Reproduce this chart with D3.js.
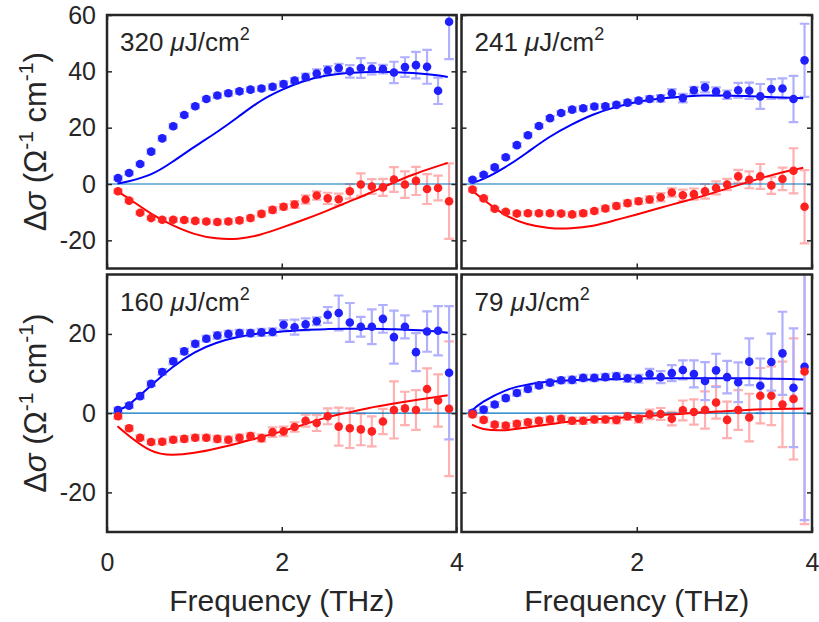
<!DOCTYPE html>
<html>
<head>
<meta charset="utf-8">
<script src="https://cdn.jsdelivr.net/npm/d3@7"></script>
<style>
body { margin: 0; background: #fff; }
text { font-family: "Liberation Sans", Arial, sans-serif; fill: #262626; }
</style>
</head>
<body>
<svg width="819" height="622"></svg>
<script>
// frequencies of the measured points (THz)
const freq = [0.126,0.253,0.379,0.505,0.632,0.758,0.884,1.010,1.137,1.263,1.389,1.516,1.642,1.768,1.895,2.021,
  2.147,2.273,2.400,2.526,2.652,2.779,2.905,3.031,3.158,3.284,3.410,3.536,3.663,3.789,3.915];
// frequencies where the model curves are sampled
const fitFreq = [0.12,0.25,0.5,0.75,1.0,1.25,1.5,1.75,2.0,2.25,2.5,2.75,3.0,3.25,3.5,3.75,3.9];

const fluence = ["320", "241", "160", "79"];

// 320 uJ/cm2
const blue320 = [2.1,3.9,7.1,11.5,16.2,20.5,24.5,27.6,30.2,31.4,32.2,32.9,33.5,33.9,34.5,35.5,36.7,38.0,39.2,40.4,41.2,40.0,41.2,40.9,40.8,39.6,41.5,42.2,41.6,33.1,57.6];
const blueErr320 = [0.6,0.6,0.6,0.7,0.7,0.7,0.7,0.7,0.7,0.8,0.8,0.8,0.8,0.8,0.9,0.9,1.0,1.2,1.5,1.5,1.5,2.2,3.5,2.0,1.5,3.8,3.5,4.7,6.0,4.7,13.3];
const red320 = [-2.6,-5.9,-10.2,-12.1,-12.7,-12.7,-12.8,-13.1,-13.3,-13.5,-13.3,-12.9,-12.1,-10.6,-9.2,-8.1,-7.3,-5.5,-4.1,-5.1,-5.4,-2.6,-0.2,-0.9,-1.2,1.6,-0.2,1.1,-1.8,-1.4,-6.1];
const redErr320 = [0.6,0.6,0.6,0.6,0.7,0.7,0.7,0.7,0.7,0.8,0.8,0.8,0.9,0.9,1.0,1.0,1.2,1.5,1.5,2.0,2.0,2.6,4.0,2.6,3.0,4.4,4.7,5.0,5.3,4.4,13.4];
const blueFit320 = [0.2,1.0,3.4,7.9,13.2,18.3,23.8,29.3,33.4,36.5,38.4,39.4,39.8,39.8,39.4,38.7,38.0];
const redFit320 = [-2.6,-5.2,-10.4,-14.6,-17.7,-19.3,-19.4,-18.0,-15.5,-12.7,-9.7,-6.5,-3.3,0.1,3.3,6.0,7.5];

// 241 uJ/cm2
const blue241 = [1.5,3.3,5.9,9.5,13.8,17.3,20.6,23.4,25.2,26.4,26.9,27.5,27.6,28.1,28.9,29.6,30.2,30.4,32.2,30.5,33.3,34.3,32.8,31.7,33.3,33.1,31.1,33.7,33.9,30.2,43.9];
const blueErr241 = [0.6,0.6,0.6,0.6,0.7,0.7,0.7,0.7,0.7,0.8,0.8,0.8,0.8,0.8,0.9,0.9,1.0,1.2,1.5,1.5,1.2,1.8,1.5,1.5,2.6,2.9,4.4,3.5,3.6,8.2,13.0];
const red241 = [-2.0,-5.1,-8.8,-9.9,-10.5,-10.4,-10.4,-10.4,-10.5,-10.8,-10.4,-9.6,-8.7,-7.8,-6.8,-6.1,-5.5,-4.7,-3.0,-4.0,-3.6,-2.6,-1.4,-0.2,2.7,1.5,2.7,-0.5,1.8,4.7,-8.1];
const redErr241 = [0.6,0.6,0.6,0.6,0.7,0.7,0.7,0.7,0.7,0.8,0.8,0.8,0.9,0.9,1.0,1.0,1.2,1.5,1.5,2.0,2.0,2.6,2.3,2.0,2.3,3.0,4.4,3.0,4.0,8.0,13.0];
const blueFit241 = [0.4,1.8,6.0,11.2,16.6,21.0,24.6,27.2,29.1,30.3,31.0,31.4,31.4,31.2,30.9,30.6,30.4];
const redFit241 = [-2.3,-5.5,-11.0,-14.2,-15.6,-15.7,-14.8,-12.9,-10.8,-8.6,-6.5,-4.3,-1.9,0.5,2.8,4.8,5.8];

// 160 uJ/cm2
const blue160 = [0.8,1.9,4.3,7.4,10.4,13.1,15.6,17.5,18.8,19.6,20.0,20.2,20.2,20.4,20.5,22.3,21.7,22.4,23.2,24.8,25.3,22.9,21.8,21.8,23.8,19.2,21.8,15.4,20.6,20.8,10.2];
const blueErr160 = [0.6,0.6,0.6,0.6,0.7,0.7,0.7,0.7,0.7,0.8,0.8,0.8,0.8,0.9,0.9,1.2,1.9,1.5,1.0,2.0,4.4,4.9,2.5,4.4,3.5,6.7,2.9,4.8,5.1,6.2,16.8];
const red160 = [-0.8,-3.8,-6.2,-7.3,-7.2,-6.7,-6.5,-6.2,-6.2,-6.5,-6.7,-6.2,-5.8,-6.3,-4.8,-4.6,-3.5,-1.9,-2.5,-0.8,-3.4,-3.8,-4.1,-4.6,-2.1,0.8,1.2,0.8,6.1,3.2,1.1];
const redErr160 = [0.6,0.6,0.6,0.6,0.7,0.7,0.7,0.7,0.7,0.8,0.8,0.8,0.8,0.9,1.2,1.2,1.2,1.5,2.0,2.0,4.8,5.0,4.0,3.8,3.2,7.2,4.2,5.0,5.2,6.6,17.0];
const blueFit160 = [0.7,2.2,6.9,11.6,15.3,17.7,19.2,20.1,20.6,21.0,21.2,21.3,21.3,21.2,21.0,20.7,20.3];
const redFit160 = [-3.3,-5.7,-9.4,-10.5,-10.0,-8.9,-7.6,-6.1,-4.6,-2.9,-1.2,0.1,1.3,2.3,3.2,4.0,4.5];

// 79 uJ/cm2
const blue79 = [0.1,0.9,2.2,3.8,5.1,6.1,7.0,7.7,8.3,8.4,8.9,8.9,9.1,9.3,8.8,8.7,9.9,9.1,10.1,10.9,9.9,8.1,10.8,9.1,7.8,13.0,6.9,12.9,15.1,6.4,11.7];
const blueErr79 = [0.6,0.6,0.6,0.6,0.7,0.7,0.7,0.7,0.7,0.8,0.8,0.8,0.8,0.9,0.9,1.0,1.3,1.5,2.0,2.4,3.4,4.8,4.2,4.1,5.0,5.9,6.9,7.2,10.5,15.0,38.7];
const red79 = [-0.3,-1.7,-2.9,-3.1,-2.7,-2.3,-1.9,-1.6,-1.4,-1.9,-1.9,-1.6,-1.6,-1.7,-0.8,-1.4,-0.3,-0.2,-1.4,0.7,0.3,0.8,2.7,-1.7,0.8,-1.1,4.4,4.4,2.2,3.6,10.5];
const redErr79 = [0.6,0.6,0.6,0.6,0.7,0.7,0.7,0.7,0.7,0.8,0.8,0.8,0.8,0.9,0.9,1.0,1.2,1.5,1.7,2.5,3.2,4.7,4.1,4.6,5.0,6.0,7.0,7.4,10.8,15.3,38.5];
const blueFit79 = [0.7,2.9,5.7,7.2,7.9,8.3,8.5,8.6,8.7,8.8,8.8,8.8,8.8,8.8,8.7,8.6,8.5];
const redFit79 = [-2.9,-4.0,-4.3,-3.6,-2.8,-2.1,-1.6,-1.2,-0.9,-0.5,-0.2,0.2,0.5,0.8,1.0,1.1,1.2];

const xTicks = [0, 2, 4];
const yTicksTop = [-20, 0, 20, 40, 60];
const yTicksBottom = [-20, 0, 20];

let panels = [
  {row:0, col:0, blue:blue320, blueErr:blueErr320, red:red320, redErr:redErr320, blueFit:blueFit320, redFit:redFit320},
  {row:0, col:1, blue:blue241, blueErr:blueErr241, red:red241, redErr:redErr241, blueFit:blueFit241, redFit:redFit241},
  {row:1, col:0, blue:blue160, blueErr:blueErr160, red:red160, redErr:redErr160, blueFit:blueFit160, redFit:redFit160},
  {row:1, col:1, blue:blue79, blueErr:blueErr79, red:red79, redErr:redErr79, blueFit:blueFit79, redFit:redFit79}
];

let svg = d3.select("svg");
let cols = [[107, 456.5], [461.5, 812]];
let rows = [[15, 268.5], [274.5, 532]];
let yDomains = [[-30, 60], [-30, 35]];
let yTickSets = [yTicksTop, yTicksBottom];

let fitLine = d3.line().curve(d3.curveNatural);
let plain = function(d){ return String(d); };   // hyphen minus like the original

panels.forEach(function(p, k){
  let x = d3.scaleLinear().domain([0, 4]).range(cols[p.col]);
  let y = d3.scaleLinear().domain(yDomains[p.row]).range([rows[p.row][1], rows[p.row][0]]);
  let g = svg.append("g");

  svg.append("clipPath").attr("id", "clip" + k)
    .append("rect")
    .attr("x", x(0)).attr("y", y(yDomains[p.row][1]))
    .attr("width", x(4) - x(0))
    .attr("height", y(yDomains[p.row][0]) - y(yDomains[p.row][1]));
  let plot = g.append("g").attr("clip-path", "url(#clip" + k + ")");

  // error bars
  [[p.red, p.redErr, "#ffb0b0"], [p.blue, p.blueErr, "#b0b0ff"]].forEach(function(s){
    plot.append("g").selectAll("path")
      .data(freq)
      .join("path")
      .attr("fill", "none")
      .attr("stroke", s[2])
      .attr("stroke-width", 2.2)
      .attr("d", function(f, i){
        let cx = x(f), lo = y(s[0][i] - s[1][i]), hi = y(s[0][i] + s[1][i]);
        return "M" + (cx - 4.8) + "," + lo + "H" + (cx + 4.8) +
               "M" + cx + "," + lo + "V" + hi +
               "M" + (cx - 4.8) + "," + hi + "H" + (cx + 4.8);
      });
  });

  // zero line
  plot.append("line")
    .attr("x1", x(0)).attr("x2", x(4))
    .attr("y1", y(0)).attr("y2", y(0))
    .attr("stroke", "#0072bd").attr("stroke-width", 1.1);

  // model curves
  [[p.blueFit, "#0000ff"], [p.redFit, "#ff0000"]].forEach(function(s){
    plot.append("path")
      .attr("fill", "none")
      .attr("stroke", s[1])
      .attr("stroke-width", 2)
      .attr("d", fitLine(fitFreq.map(function(f, i){ return [x(f), y(s[0][i])]; })));
  });

  // data points
  [[p.blue, "#2020ff"], [p.red, "#ff2020"]].forEach(function(s){
    plot.append("g").selectAll("circle")
      .data(freq)
      .join("circle")
      .attr("cx", function(f){ return x(f); })
      .attr("cy", function(f, i){ return y(s[0][i]); })
      .attr("r", 4.3)
      .attr("fill", s[1]);
  });

  // axes, ticks pointing inward
  let yt = yTickSets[p.row];
  let left = g.append("g").attr("transform", "translate(" + x(0) + ",0)")
    .call(d3.axisLeft(y).tickValues(yt).tickSizeInner(-5).tickSizeOuter(0).tickPadding(11)
      .tickFormat(p.col == 0 ? plain : ""));
  let right = g.append("g").attr("transform", "translate(" + x(4) + ",0)")
    .call(d3.axisRight(y).tickValues(yt).tickSizeInner(-5).tickSizeOuter(0).tickFormat(""));
  let top = g.append("g").attr("transform", "translate(0," + y.range()[1] + ")")
    .call(d3.axisTop(x).tickValues(xTicks).tickSizeInner(-5).tickSizeOuter(0).tickFormat(""));
  let bottom = g.append("g").attr("transform", "translate(0," + y.range()[0] + ")")
    .call(d3.axisBottom(x).tickValues(p.col == 0 ? xTicks : xTicks.slice(1)).tickSizeInner(-5).tickSizeOuter(0)
      .tickPadding(21).tickFormat(p.row == 1 ? plain : ""));
  [left, right, top, bottom].forEach(function(a){
    a.select(".domain").remove();
    a.selectAll("line").attr("stroke", "#262626").attr("stroke-width", 1.5);
    a.selectAll("text").attr("font-size", 25).attr("font-family", null).style("fill", "#262626");
  });

  // frame
  g.append("rect")
    .attr("x", x(0)).attr("y", y.range()[1])
    .attr("width", x(4) - x(0)).attr("height", y.range()[0] - y.range()[1])
    .attr("fill", "none").attr("stroke", "#262626").attr("stroke-width", 2.5);

  // fluence label
  let lab = g.append("text")
    .attr("x", x(0) + 13).attr("y", y.range()[1] + 36)
    .attr("font-size", 26);
  lab.append("tspan").text(fluence[k] + " ");
  lab.append("tspan").attr("font-style", "italic").text("\u03bc");
  lab.append("tspan").text("J/cm");
  lab.append("tspan").attr("font-size", 18).attr("dy", -11).text("2");

  // x axis title
  if (p.row == 1) {
    g.append("text")
      .attr("x", (x(0) + x(4)) / 2).attr("y", 611)
      .attr("text-anchor", "middle").attr("font-size", 30)
      .text("Frequency (THz)");
  }

  // y axis title
  if (p.col == 0) {
    let t = g.append("text")
      .attr("transform", "translate(46," + (rows[p.row][0] + rows[p.row][1]) / 2 + ") rotate(-90)")
      .attr("text-anchor", "middle").attr("font-size", 31);
    t.append("tspan").text("\u0394");
    t.append("tspan").attr("font-style", "italic").text("\u03c3");
    t.append("tspan").text(" (\u03a9");
    t.append("tspan").attr("font-size", 21).attr("dy", -13).text("-1");
    t.append("tspan").attr("dy", 13).text(" cm");
    t.append("tspan").attr("font-size", 21).attr("dy", -13).text("-1");
    t.append("tspan").attr("dy", 13).text(")");
  }
});
</script>
</body>
</html>
